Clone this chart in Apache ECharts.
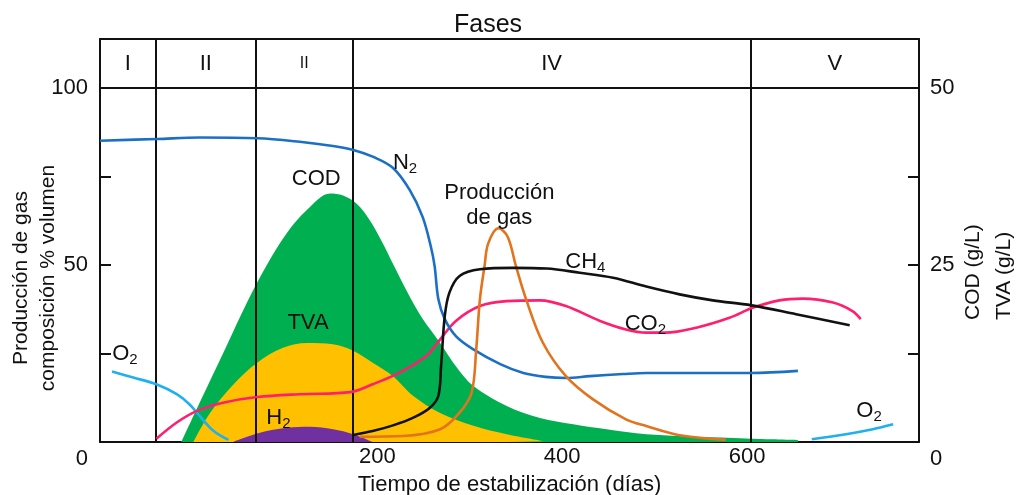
<!DOCTYPE html>
<html><head><meta charset="utf-8">
<script src="https://cdn.jsdelivr.net/npm/echarts@6/dist/echarts.min.js"></script>
<style>html,body{margin:0;padding:0;background:#fff}#c{width:1020px;height:495px}</style>
</head><body><div id="c"></div>
<script>
// ---- axes / ticks ----
const xTickLabels = [200, 400, 600];
const yLeftLabels = [0, 50, 100];
const yLeftTicks = [25, 50, 75];
const yRightLabels = [0, 25, 50];
const yRightTicks = [12.5, 25, 37.5];
const xMin = -100, xMax = 786;
const yLeftMax = 113.84, yRightMax = 56.92;

// ---- phases ----
const phaseNames = ['I', 'II', 'II', 'IV', 'V'];
const phaseBounds = [-100, -40, 69, 173, 604, 786];

// ---- series (day, value) ----
const n2 = [[-100,85.1],[-38,85.6],[8,86.0],[70,85.8],[116,84.8],[152,83.6],[174,82.5],[195,80.6],[217,77.4],[235,71.2],[249,63.6],[258,55.1],[262,49.7],[266,40.4],[273,34.7],[285,29.9],[303,26.3],[333,22.0],[358,19.5],[382,18.4],[404,18.1],[430,18.6],[466,19.2],[491,19.5],[545,19.5],[604,19.5],[655,20.1]];
const o2Left = [[-87,19.9],[-64,18.2],[-39,16.3],[-17,13.5],[-3,10.6],[8,7.3],[23,3.1],[39,0.6]];
const o2Right = [[670,0.8],[707,2.2],[736,3.6],[758,5.0]];
const cod = [[-12,0],[8,5.6],[37,13.6],[59,19.7],[80,24.9],[102,29.5],[124,32.8],[149,35.1],[163,34.8],[178,33.6],[192,31.3],[205,28.3],[218,24.9],[232,21.3],[249,17.4],[268,14.0],[285,10.7],[304,7.9],[340,5.1],[376,3.4],[412,2.5],[448,1.8],[491,1.1],[599,0.5],[655,0.3]];
const tva = [[1,0],[19,4.1],[44,8.1],[70,11.2],[98,13.3],[124,14.0],[152,13.8],[174,12.9],[195,11.2],[217,9.3],[239,6.5],[268,4.1],[304,2.3],[340,1.1],[381,0.1]];
const h2 = [[44,0],[73,2.6],[102,4.0],[127,4.3],[152,3.6],[174,2.2],[195,0]];
const co2 = [[-39,0.9],[-17,5.5],[5,8.8],[33,11.1],[70,12.7],[116,13.5],[171,14.1],[195,16.3],[224,19.6],[253,24.3],[268,29.0],[285,34.2],[311,38.4],[340,39.8],[376,40.0],[404,38.4],[441,34.2],[469,31.8],[491,30.9],[512,30.9],[545,32.3],[581,35.1],[606,37.9],[635,40.0],[660,40.5],[693,39.4],[714,37.0],[723,34.7]];
const ch4 = [[174,2.0],[195,3.1],[217,4.7],[239,6.9],[257,9.7],[266,13.0],[269,21.5],[273,35.6],[278,42.2],[289,46.9],[311,48.8],[347,49.2],[383,49.0],[419,47.8],[455,46.4],[491,43.9],[527,41.7],[563,40.0],[605,38.6],[653,36.1],[711,33.0]];
const gas = [[181,1.5],[228,1.7],[268,3.6],[289,8.3],[302,13.9],[307,26.2],[311,40.3],[316,49.7],[320,56.1],[331,60.4],[341,58.0],[350,49.7],[361,40.3],[379,28.1],[404,18.6],[433,12.1],[469,6.4],[491,4.5],[527,1.9],[577,0.6]];

// ---- annotation texts ----
const annTexts = ['N{s|2}', 'COD', 'Producción\nde gas', 'CH{s|4}', 'TVA', 'CO{s|2}', 'O{s|2}', 'H{s|2}', 'O{s|2}'];
const annAt = [[230,78.8],[134,74.2],[332,66.9],[425,50.9],[125,33.7],[490,33.3],[-73,24.8],[93,6.9],[732,8.8]];

const FONT = 'Liberation Sans, Arial, sans-serif';
const INK = '#111';
const chart = echarts.init(document.getElementById('c'), null, {renderer: 'canvas'});

function lineSeries(name, data, color, yIdx) {
  return {name, type: 'line', data, yAxisIndex: yIdx || 0, smooth: 0.35,
    showSymbol: false, symbol: 'none', lineStyle: {color, width: 2.6}, silent: true, z: 5};
}
function areaSeries(name, data, color, yIdx, z) {
  return {name, type: 'line', data, yAxisIndex: yIdx, smooth: 0.35,
    showSymbol: false, symbol: 'none', lineStyle: {width: 0}, areaStyle: {color, opacity: 1}, silent: true, z};
}

const phaseAreas = phaseNames.map((n, i) => [
  {name: n, xAxis: phaseBounds[i], yAxis: 100,
   label: {fontSize: i === 2 ? 16 : 22}},
  {xAxis: phaseBounds[i + 1], yAxis: yLeftMax}
]);
const phaseLines = phaseBounds.slice(1, -1).map(v => ({xAxis: v}));

const option = {
  animation: false,
  textStyle: {fontFamily: FONT},
  title: {text: 'Fases', left: 449, top: 8, textStyle: {fontSize: 25, fontWeight: 'normal', color: INK, fontFamily: FONT}},
  grid: {left: 100, right: 101, top: 39, bottom: 53, containLabel: false, outerBoundsMode: 'none'},
  xAxis: [{
    type: 'value', min: xMin, max: xMax, position: 'bottom',
    axisLine: {show: true, onZero: false, lineStyle: {color: INK, width: 2}},
    axisTick: {show: false}, splitLine: {show: false},
    axisLabel: {customValues: xTickLabels, fontSize: 22, color: INK, margin: 4},
    name: 'Tiempo de estabilización (días)', nameLocation: 'middle', nameGap: 32,
    nameTextStyle: {fontSize: 22, color: INK}
  }, {
    type: 'value', min: xMin, max: xMax, position: 'top',
    axisLine: {show: true, onZero: false, lineStyle: {color: INK, width: 2}},
    axisTick: {show: false}, axisLabel: {show: false}, splitLine: {show: false}
  }],
  yAxis: [{
    type: 'value', min: 0, max: yLeftMax, position: 'left',
    axisLine: {show: true, onZero: false, lineStyle: {color: INK, width: 2}},
    axisTick: {show: true, inside: true, length: 11, customValues: yLeftTicks, lineStyle: {color: INK, width: 2}},
    axisLabel: {customValues: yLeftLabels, fontSize: 22, color: INK, margin: 12,
      formatter: v => v === 0 ? '{z|0}' : String(v),
      rich: {z: {fontSize: 22, color: INK, padding: [34, 0, 0, 0]}}},
    splitLine: {show: false}
  }, {
    type: 'value', min: 0, max: yRightMax, position: 'right',
    axisLine: {show: true, onZero: false, lineStyle: {color: INK, width: 2}},
    axisTick: {show: true, inside: true, length: 11, customValues: yRightTicks, lineStyle: {color: INK, width: 2}},
    axisLabel: {customValues: yRightLabels, fontSize: 22, color: INK, margin: 11,
      formatter: v => v === 0 ? '{z|0}' : String(v),
      rich: {z: {fontSize: 22, color: INK, padding: [34, 0, 0, 0]}}},
    splitLine: {show: false}
  }],
  graphic: [
    {type: 'text', x: 21, y: 278, rotation: Math.PI / 2, silent: true,
     style: {text: 'Producción de gas', fontSize: 21, fontFamily: FONT, fill: INK, align: 'center', verticalAlign: 'middle'}},
    {type: 'text', x: 48, y: 278, rotation: Math.PI / 2, silent: true,
     style: {text: 'composición % volumen', fontSize: 21, fontFamily: FONT, fill: INK, align: 'center', verticalAlign: 'middle'}},
    {type: 'text', x: 973, y: 320, rotation: Math.PI / 2, silent: true,
     style: {text: 'COD (g/L)', fontSize: 21, fontFamily: FONT, fill: INK, align: 'left', verticalAlign: 'middle'}},
    {type: 'text', x: 1004, y: 320, rotation: Math.PI / 2, silent: true,
     style: {text: 'TVA (g/L)', fontSize: 21, fontFamily: FONT, fill: INK, align: 'left', verticalAlign: 'middle'}}
  ],
  series: [
    areaSeries('COD', cod, '#00b050', 1, 1),
    areaSeries('TVA', tva, '#ffc000', 1, 2),
    areaSeries('H2', h2, '#7030a0', 0, 3),
    {
      name: 'phases', type: 'line', data: [], yAxisIndex: 0, silent: true, z: 4,
      markLine: {silent: true, symbol: 'none', label: {show: false},
        lineStyle: {color: INK, width: 2, type: 'solid'},
        data: phaseLines.concat([{yAxis: 100}])},
      markArea: {silent: true, itemStyle: {color: 'rgba(0,0,0,0)'},
        label: {show: true, position: 'inside', color: INK, fontSize: 22, fontFamily: FONT},
        data: phaseAreas}
    },
    lineSeries('O2a', o2Left, '#1fb0ee'),
    lineSeries('O2b', o2Right, '#1fb0ee'),
    lineSeries('CO2', co2, '#ff1f6e'),
    lineSeries('N2', n2, '#1b70c6'),
    lineSeries('Gas', gas, '#e2731f'),
    lineSeries('CH4', ch4, '#111111'),
    {
      name: 'labels', type: 'scatter', yAxisIndex: 0, symbolSize: 0, silent: true, z: 10,
      itemStyle: {color: 'rgba(0,0,0,0)', opacity: 1},
      data: annTexts.map((t, i) => ({name: t, value: annAt[i]})),
      label: {show: true, position: 'inside', color: INK, opacity: 1, fontSize: 22, fontFamily: FONT, lineHeight: 25,
        textBorderWidth: 0, textBorderColor: 'transparent',
        formatter: p => p.name,
        rich: {s: {fontSize: 15, color: INK, fontFamily: FONT, padding: [12, 0, 0, 0], textBorderWidth: 0}}}
    }
  ]
};
chart.setOption(option);
</script>
</body></html>
